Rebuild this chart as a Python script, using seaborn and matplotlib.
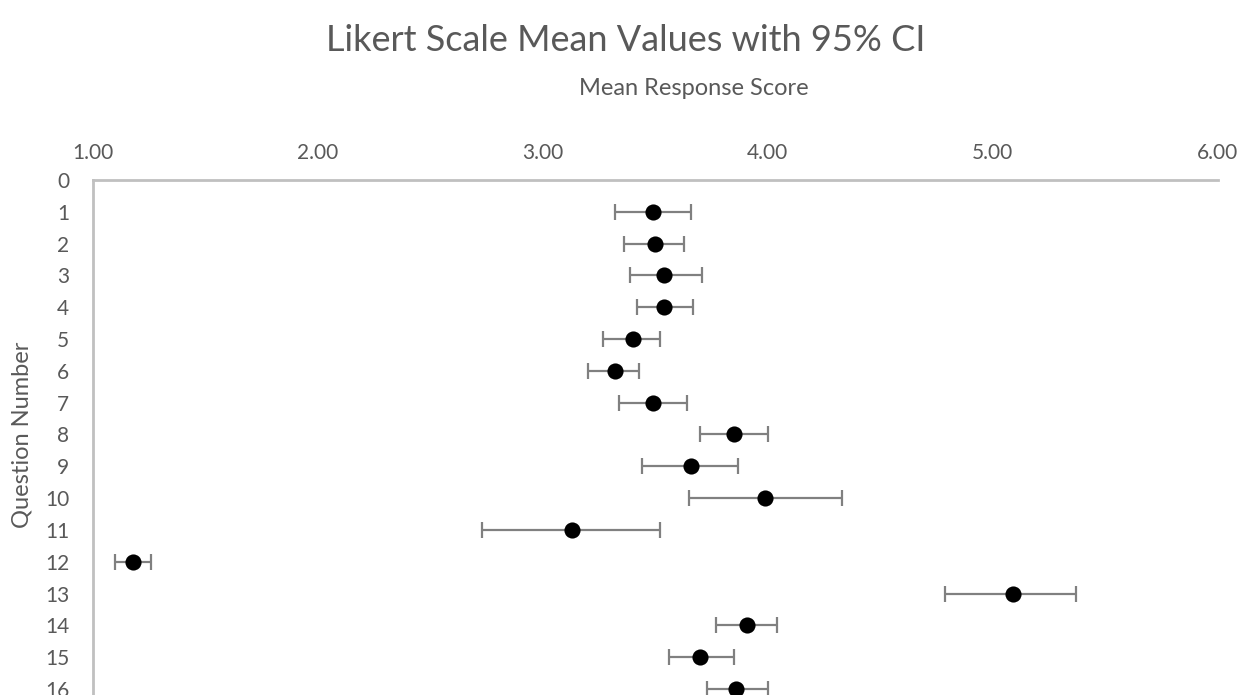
import numpy as np
import pandas as pd
import matplotlib.pyplot as plt
import seaborn as sns

###################################################################################
# Data

questions = list(range(1, 17))
means = [3.49, 3.50, 3.54, 3.54, 3.40, 3.32, 3.49, 3.85, 3.66, 3.99, 3.13, 1.18, 5.09, 3.91, 3.70, 3.86]
ci_low = [3.32, 3.36, 3.39, 3.42, 3.27, 3.20, 3.34, 3.70, 3.44, 3.65, 2.73, 1.10, 4.79, 3.77, 3.56, 3.73]
ci_high = [3.66, 3.63, 3.71, 3.67, 3.52, 3.43, 3.64, 4.00, 3.87, 4.33, 3.52, 1.26, 5.37, 4.04, 3.85, 4.00]
x_ticks = [1.0, 2.0, 3.0, 4.0, 5.0, 6.0]
y_ticks = list(range(0, 17))

df = pd.DataFrame({'question': questions, 'mean': means, 'low': ci_low, 'high': ci_high})

###################################################################################
# Plot

sns.set_style('white')
plt.rcParams['font.family'] = ['Lato', 'DejaVu Sans']
grey = '#595959'

fig = plt.figure(figsize=(12.42, 6.95), dpi=100)
ax = fig.add_axes([0.0746, 0.0, 0.9058, 0.741])

err = [df['mean'] - df['low'], df['high'] - df['mean']]
ax.errorbar(df['mean'], df['question'], xerr=err, fmt='none', ecolor='#808080',
            elinewidth=1.6, capsize=6, capthick=1.6, zorder=2)
sns.scatterplot(data=df, x='mean', y='question', color='black', s=135,
                edgecolor='black', linewidth=0, zorder=3, ax=ax)

ax.set_xlim(1, 6)
ax.set_ylim(16.19, 0)
ax.set_xticks(x_ticks)
ax.set_xticklabels([f'{v:.2f}' for v in x_ticks])
ax.set_yticks(y_ticks)
ax.xaxis.tick_top()
ax.tick_params(axis='x', length=0, pad=12, labelsize=15, labelcolor=grey)
ax.tick_params(axis='y', length=0, pad=17, labelsize=15, labelcolor=grey)
ax.set_xlabel('')
ax.set_ylabel('')

for side in ['right', 'bottom']:
    ax.spines[side].set_visible(False)
for side in ['top', 'left']:
    ax.spines[side].set_color('#c0c0c0')
    ax.spines[side].set_linewidth(2)

fig.text(0.504, 0.942, 'Likert Scale Mean Values with 95% CI', ha='center', va='center',
         fontsize=26, color=grey)
fig.text(0.559, 0.872, 'Mean Response Score', ha='center', va='center',
         fontsize=17, color=grey)
fig.text(0.018, 0.374, 'Question Number', ha='center', va='center', rotation=90,
         fontsize=17, color=grey)

fig.savefig('out.png', dpi=100)
